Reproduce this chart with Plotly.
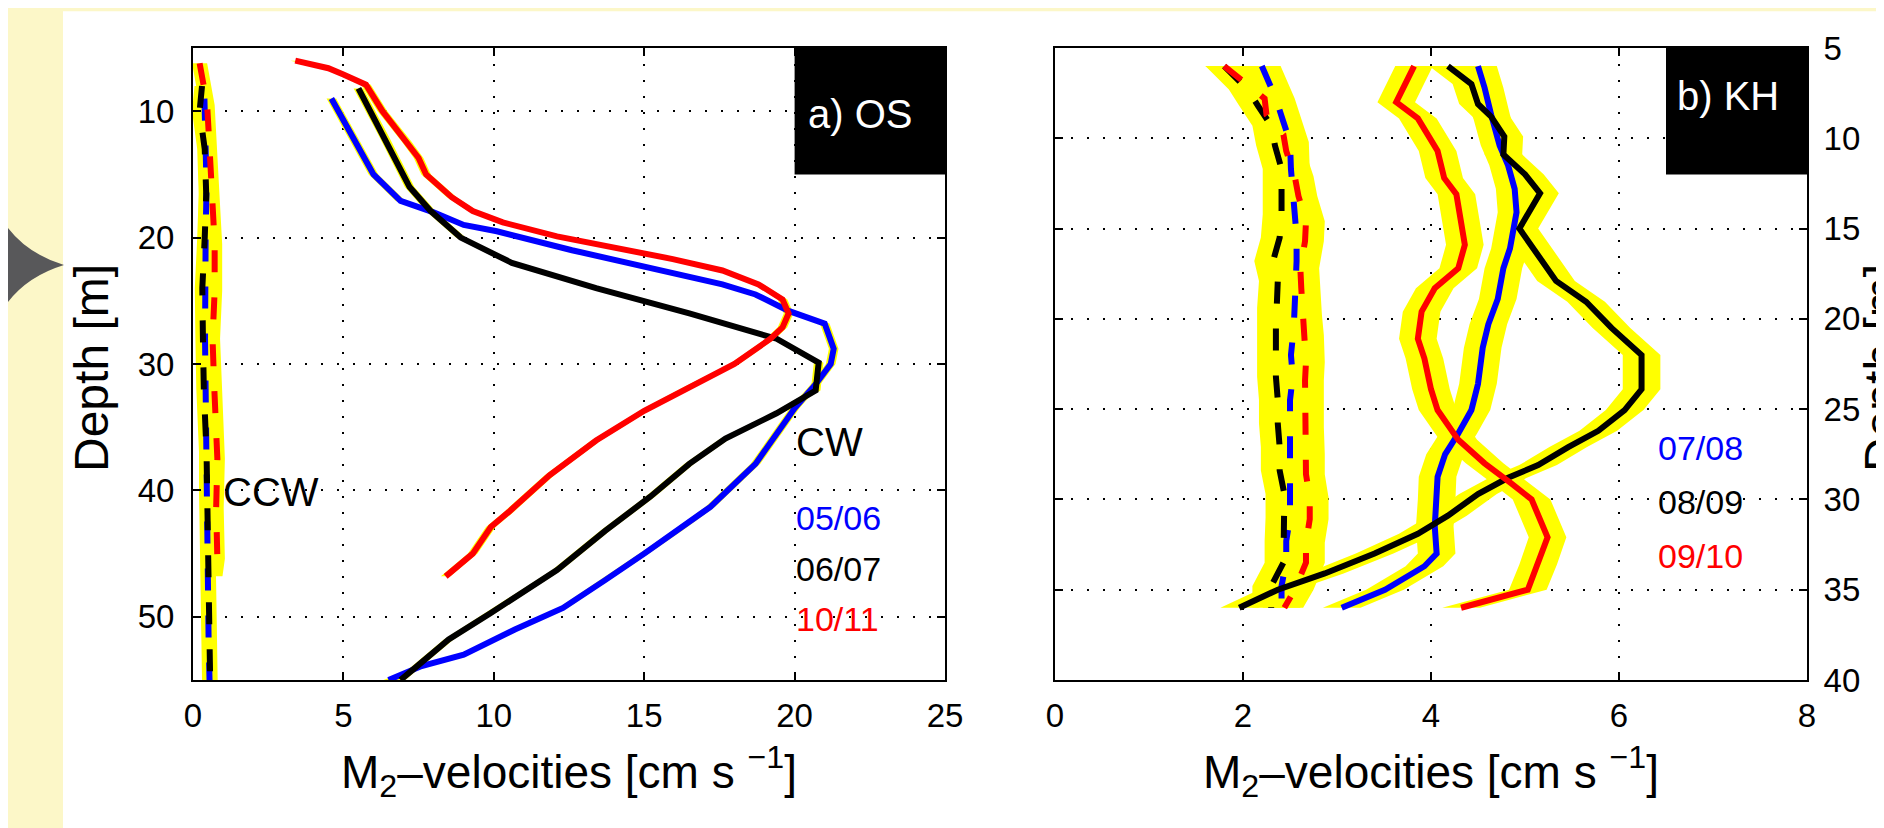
import plotly.graph_objects as go

W, H = 1884, 828

# ---------------- data: panel a) OS ----------------
# clockwise (CW) M2 velocity profiles [cm/s] vs depth [m]
os_cw_0506_depth = [9.0, 15.0, 17.1, 18.0, 19.0, 19.5, 21.0, 22.3, 23.2, 23.7, 24.5, 25.8, 26.8, 28.8, 30.0,
                    31.6, 33.5, 37.9, 41.3, 43.2, 45.0, 47.1, 49.3, 51.0, 53.0, 53.9, 55.0]
os_cw_0506_vel = [4.6, 6.0, 6.9, 8.0, 9.0, 10.1, 12.6, 15.0, 16.5, 17.6, 18.7, 19.8, 21.0, 21.3, 21.2,
                  20.7, 20.0, 18.7, 17.2, 16.1, 15.0, 13.7, 12.3, 10.7, 9.0, 7.6, 6.5]

os_cw_0607_depth = [8.2, 12.0, 16.0, 17.9, 20.0, 22.0, 24.0, 26.0, 28.0, 29.9, 32.1, 33.9, 35.9, 37.9,
                    40.5, 43.2, 46.3, 49.7, 51.8, 53.8, 55.0]
os_cw_0607_vel = [5.5, 6.35, 7.2, 7.9, 8.9, 10.6, 13.4, 16.5, 19.4, 20.8, 20.7, 19.4, 17.7, 16.5,
                  15.2, 13.7, 12.1, 9.9, 8.5, 7.5, 6.9]

os_cw_1011_depth = [6.0, 6.6, 7.1, 7.9, 10.0, 12.4, 13.7, 15.0, 16.8, 17.9, 18.8, 19.9, 20.9, 21.7, 22.6,
                    23.7, 24.9, 26.0, 27.1, 28.0, 30.0, 31.8, 33.7, 36.05, 38.8, 41.7, 42.9, 45.0, 46.8]
os_cw_1011_vel = [3.4, 4.5, 5.0, 5.75, 6.3, 7.1, 7.5, 7.75, 8.6, 9.3, 10.3, 12.1, 14.3, 15.95, 17.6,
                  18.8, 19.6, 19.8, 19.6, 19.2, 18.0, 16.5, 15.0, 13.4, 11.85, 10.5, 9.9, 9.3, 8.4]

# counter-clockwise (CCW) profiles
os_ccw_0506_depth = [9.0, 12.0, 16.0, 20.0, 24.0, 28.0, 32.0, 36.0, 40.0, 44.0, 48.0, 52.0, 55.0]
os_ccw_0506_vel = [0.38, 0.40, 0.45, 0.42, 0.40, 0.40, 0.42, 0.45, 0.45, 0.48, 0.50, 0.52, 0.55]
os_ccw_0607_depth = [8.0, 10.0, 13.0, 16.6, 20.0, 24.0, 28.0, 32.0, 37.0, 42.0, 47.8, 52.0, 55.0]
os_ccw_0607_vel = [0.30, 0.22, 0.39, 0.44, 0.39, 0.31, 0.33, 0.36, 0.45, 0.48, 0.53, 0.55, 0.57]
os_ccw_1011_depth = [6.2, 9.5, 12.9, 16.6, 20.5, 24.2, 28.0, 31.5, 35.4, 37.5, 41.4, 45.4, 46.8]
os_ccw_1011_vel = [0.22, 0.47, 0.55, 0.63, 0.72, 0.72, 0.65, 0.70, 0.77, 0.81, 0.77, 0.81, 0.73]

os_ci_cw = 0.16    # half width of confidence band [cm/s]
os_ci_ccw = 0.25

# ---------------- data: panel b) KH ----------------
kh_cw_0708_depth = [6.0, 7.2, 8.7, 10.4, 11.5, 12.8, 14.1, 16.1, 17.2, 18.9, 20.3, 21.6, 23.6, 25.05,
                    26.35, 27.5, 28.75, 30.0, 31.5, 33.0, 33.7, 35.0, 36.0]
kh_cw_0708_vel = [4.5, 4.57, 4.64, 4.73, 4.82, 4.89, 4.91, 4.84, 4.77, 4.71, 4.61, 4.55, 4.5, 4.43,
                  4.29, 4.15, 4.07, 4.06, 4.04, 4.06, 3.93, 3.51, 3.05]

kh_cw_0809_depth = [6.0, 7.0, 8.1, 8.8, 9.9, 10.9, 12.0, 13.05, 15.0, 16.5, 17.9, 19.05, 20.5, 22.0, 23.9,
                    25.05, 26.2, 27.1, 28.1, 28.8, 29.7, 30.9, 31.9, 33.0, 34.1, 35.0, 36.0]
kh_cw_0809_vel = [4.18, 4.43, 4.5, 4.64, 4.78, 4.77, 5.0, 5.16, 4.94, 5.14, 5.33, 5.65, 5.92, 6.24, 6.24,
                  6.06, 5.78, 5.46, 5.14, 4.82, 4.5, 4.18, 3.86, 3.4, 2.87, 2.37, 1.96]

kh_cw_0910_depth = [6.0, 7.05, 8.0, 8.9, 10.7, 12.2, 13.1, 15.9, 17.2, 18.3, 19.6, 21.1, 22.2, 23.9, 25.05,
                    26.7, 28.0, 29.1, 30.0, 32.1, 33.6, 35.0, 36.0]
kh_cw_0910_vel = [3.82, 3.72, 3.63, 3.86, 4.07, 4.14, 4.27, 4.36, 4.29, 4.04, 3.9, 3.86, 3.93, 4.0, 4.07,
                  4.29, 4.57, 4.85, 5.07, 5.24, 5.14, 5.03, 4.32]

kh_ccw_0708_depth = [6.0, 7.8, 9.1, 10.2, 11.7, 12.8, 14.2, 15.4, 16.8, 17.9, 19.4, 20.5, 22.0, 23.2,
                     24.5, 25.6, 27.1, 28.2, 29.7, 31.0, 32.3, 33.4, 34.8, 36.0]
kh_ccw_0708_vel = [2.2, 2.35, 2.43, 2.5, 2.51, 2.53, 2.55, 2.57, 2.57, 2.56, 2.55, 2.54, 2.51, 2.53,
                   2.5, 2.5, 2.5, 2.5, 2.5, 2.5, 2.46, 2.46, 2.41, 2.41]
kh_ccw_0809_depth = [6.0, 7.3, 8.2, 9.3, 10.4, 11.7, 13.0, 14.2, 15.5, 16.8, 17.9, 19.4, 20.5, 22.0, 23.2,
                     24.5, 25.8, 27.1, 28.4, 29.7, 31.0, 32.3, 33.5, 34.8, 36.0]
kh_ccw_0809_vel = [1.8, 2.05, 2.16, 2.3, 2.34, 2.41, 2.41, 2.41, 2.39, 2.32, 2.37, 2.35, 2.35, 2.35, 2.35,
                   2.37, 2.37, 2.39, 2.39, 2.44, 2.44, 2.43, 2.43, 2.3, 2.3]
kh_ccw_0910_depth = [6.0, 6.9, 7.8, 8.7, 9.8, 10.7, 12.1, 13.2, 14.6, 15.7, 17.2, 18.3, 19.8, 20.9, 22.4,
                     23.4, 24.9, 26.0, 27.5, 28.6, 29.9, 31.1, 32.4, 33.5, 35.0, 36.0]
kh_ccw_0910_vel = [1.8, 2.02, 2.23, 2.25, 2.43, 2.46, 2.55, 2.59, 2.67, 2.66, 2.61, 2.62, 2.64, 2.66, 2.67,
                   2.66, 2.66, 2.66, 2.67, 2.67, 2.71, 2.71, 2.67, 2.67, 2.55, 2.44]

kh_ci = 0.2

os_labels = ["05/06", "06/07", "10/11"]
kh_labels = ["07/08", "08/09", "09/10"]
os_ticks_x = [0, 5, 10, 15, 20, 25]
os_ticks_y = [10, 20, 30, 40, 50]
kh_ticks_x = [0, 2, 4, 6, 8]
kh_ticks_y = [5, 10, 15, 20, 25, 30, 35, 40]

# ---------------- styling ----------------
BLUE, BLACK, RED, YELLOW = "#0000ff", "#000000", "#ff0000", "#ffff00"
year_colors = [BLUE, BLACK, RED]
FONT = "Liberation Sans, Arial, sans-serif"
DASH = "22px,25px"
LW = 6


def px(xp):
    return xp / W


def py(yp):
    return 1 - yp / H


fig = go.Figure()


def band(depth, vel, ci, xa, ya):
    xs = [v - ci for v in vel] + [v + ci for v in vel[::-1]]
    ys = list(depth) + list(depth[::-1])
    fig.add_trace(go.Scatter(x=xs, y=ys, xaxis=xa, yaxis=ya, mode="lines", fill="toself",
                             fillcolor=YELLOW, line=dict(width=0, color=YELLOW),
                             hoverinfo="skip", showlegend=False))


def line(depth, vel, color, dash, xa, ya, name):
    fig.add_trace(go.Scatter(x=vel, y=depth, xaxis=xa, yaxis=ya, mode="lines", name=name,
                             line=dict(color=color, width=LW, dash=dash), showlegend=False))


os_cw = [(os_cw_0506_depth, os_cw_0506_vel), (os_cw_0607_depth, os_cw_0607_vel),
         (os_cw_1011_depth, os_cw_1011_vel)]
os_ccw = [(os_ccw_0506_depth, os_ccw_0506_vel), (os_ccw_0607_depth, os_ccw_0607_vel),
          (os_ccw_1011_depth, os_ccw_1011_vel)]
kh_cw = [(kh_cw_0708_depth, kh_cw_0708_vel), (kh_cw_0809_depth, kh_cw_0809_vel),
         (kh_cw_0910_depth, kh_cw_0910_vel)]
kh_ccw = [(kh_ccw_0708_depth, kh_ccw_0708_vel), (kh_ccw_0809_depth, kh_ccw_0809_vel),
          (kh_ccw_0910_depth, kh_ccw_0910_vel)]

# confidence bands
for d, v in os_ccw:
    band(d, v, os_ci_ccw, "x", "y")
for d, v in os_cw:
    band(d, v, os_ci_cw, "x", "y")
for d, v in kh_ccw:
    band(d, v, kh_ci, "x2", "y2")
for d, v in kh_cw:
    band(d, v, kh_ci, "x2", "y2")

# profiles
for (d, v), c, lab in zip(os_ccw, year_colors, os_labels):
    line(d, v, c, DASH, "x", "y", "CCW " + lab)
for (d, v), c, lab in zip(os_cw, year_colors, os_labels):
    line(d, v, c, "solid", "x", "y", "CW " + lab)
for (d, v), c, lab in zip(kh_ccw, year_colors, kh_labels):
    line(d, v, c, DASH, "x2", "y2", "CCW " + lab)
for (d, v), c, lab in zip(kh_cw, year_colors, kh_labels):
    line(d, v, c, "solid", "x2", "y2", "CW " + lab)

tickfont = dict(family=FONT, size=33, color="black")
xtitle = "M<sub>2</sub>–velocities [cm s <sup>−1</sup>]"
common = dict(showline=True, linecolor="black", linewidth=2, mirror="ticks", ticks="inside",
              ticklen=8, tickwidth=2, tickcolor="black", showgrid=True, gridcolor="black",
              gridwidth=2, griddash="2px,14px", zeroline=False, tickfont=tickfont,
              automargin=False)

fig.update_layout(
    width=W, height=H, margin=dict(l=0, r=0, t=0, b=0, autoexpand=False),
    paper_bgcolor="white", plot_bgcolor="white", showlegend=False,
    font=dict(family=FONT, color="black"),
    xaxis=dict(domain=[px(185), px(937)], range=[0, 25], tickvals=os_ticks_x, anchor="y",
               ticklabelstandoff=5,
               title=dict(text=xtitle, font=dict(family=FONT, size=46), standoff=23), **common),
    yaxis=dict(domain=[py(672), py(40)], range=[55, 5], tickvals=os_ticks_y, anchor="x",
               ticklabelstandoff=10, **common),
    xaxis2=dict(domain=[px(1047), px(1799)], range=[0, 8], tickvals=kh_ticks_x, anchor="y2",
                ticklabelstandoff=5,
                title=dict(text=xtitle, font=dict(family=FONT, size=46), standoff=23), **common),
    yaxis2=dict(domain=[py(672), py(40)], range=[40, 5], tickvals=kh_ticks_y, anchor="x2",
                side="right", ticklabelstandoff=8, **common),
)

shapes = [
    # poster background strips
    dict(type="rect", xref="paper", yref="paper", x0=0, x1=px(55), y0=0, y1=1,
         fillcolor="#fcf7c8", line=dict(width=0), layer="below"),
    dict(type="rect", xref="paper", yref="paper", x0=0, x1=1, y0=py(3.3), y1=1,
         fillcolor="#fcf7c8", line=dict(width=0), layer="below"),
    dict(type="path", xref="paper", yref="paper",
         path=(f"M 0,{py(220)} Q {px(20)},{py(246)} {px(56)},{py(257)} "
               f"Q {px(20)},{py(268)} 0,{py(294)} Z"),
         fillcolor="#58585a", line=dict(width=0)),
    # panel label boxes
    dict(type="rect", xref="x", yref="y", x0=20, x1=25, y0=5, y1=15,
         fillcolor="black", line=dict(width=0), layer="above"),
    dict(type="rect", xref="x2", yref="y2", x0=6.5, x1=8, y0=5, y1=12,
         fillcolor="black", line=dict(width=0), layer="above"),
]
fig.update_layout(shapes=shapes)


def ann(text, xp, yp, size, color="black", xanchor="left", angle=0):
    fig.add_annotation(text=text, x=px(xp), y=py(yp), xref="paper", yref="paper",
                       xanchor=xanchor, yanchor="middle", showarrow=False, textangle=angle,
                       font=dict(family=FONT, size=size, color=color))


# y-axis titles (the right one runs off the edge of the page, as in the original)
ann("Depth [m]", 84, 360, 48, "black", "center", -90)
ann("Depth [m]", 1874, 360, 48, "black", "center", -90)

ann("a) OS", 852, 106, 40, "white", "center")
ann("b) KH", 1720, 88, 40, "white", "center")
ann("CW", 786, 434, 40)
ann("CCW", 213, 484, 40)
for lab, c, yp in zip(os_labels, year_colors, [510, 561, 611]):
    ann(lab, 786, yp, 34, c)
for lab, c, yp in zip(kh_labels, year_colors, [440, 494, 548]):
    ann(lab, 1648, yp, 34, c)

fig.write_html("out.html")
